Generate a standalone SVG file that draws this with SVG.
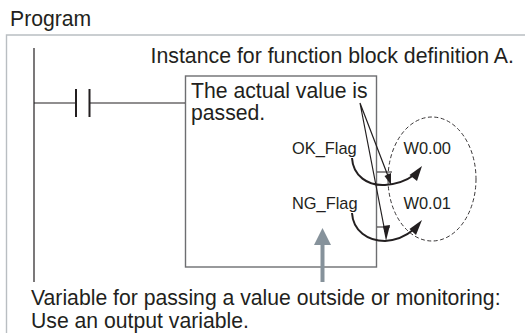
<svg xmlns="http://www.w3.org/2000/svg" width="525" height="333" viewBox="0 0 525 333">
<style>
text{font-family:"Liberation Sans",Arial,sans-serif;fill:#231f20}
.t{font-size:21.2px}
.s{font-size:16.4px}
.w{fill:none;stroke:#231f20;stroke-width:1.2}
.c{fill:none;stroke:#231f20;stroke-width:2}
.h{fill:#231f20}
</style>
<rect width="525" height="333" fill="#fff"/>
<path d="M6.500 333V35H525" fill="none" stroke="#b9bec2" stroke-width="1.400"/>
<text class="t" x="10" y="26">Program</text>
<text class="t" x="150.500" y="63" style="font-size:21.3px">Instance for function block definition A.</text>
<g id="rail"><path class="w" d="M34 48V282"/></g>
<g id="block"><rect x="185.500" y="76" width="191" height="191" fill="#fff" stroke="#6d6e71" stroke-width="1.400"/>
<text class="t" x="191" y="98">The actual value is</text>
<text class="t" x="191" y="120">passed.</text>
<text class="s" x="292" y="154">OK_Flag</text>
<text class="s" x="292" y="209">NG_Flag</text></g>
<g id="outputs"><text class="s" x="403.500" y="154">W0.00</text>
<text class="s" x="403.500" y="209">W0.01</text>
<ellipse cx="432" cy="179" rx="44" ry="62" fill="none" stroke="#231f20" stroke-width="0.9" stroke-dasharray="4 2.500"/></g>
<g id="connectors">
<path class="w" d="M34 103H76M90 103H185"/>
<path d="M76 89V117M89.500 89V117" fill="none" stroke="#231f20" stroke-width="2"/>
<path class="w" d="M377 172H392M377 227H390"/>
<path class="w" d="M360 103L388 176M360 103L385 232" stroke-width="1"/>
<path class="h" d="M391 185L384.500 176L391 173ZM386 241L383 226L390 225Z"/>
<path class="c" d="M352 158C353 176 368 186 385 185C398 184 406 181 414 175"/>
<path class="h" d="M422 166L417 181L409.500 175Z"/>
<path class="c" d="M352 213C353 231 368 241 385 241C398 240 406 236 413 230"/>
<path class="h" d="M422 220L416 235L409.500 229Z"/>
<path d="M322.500 282V244" fill="none" stroke="#86929b" stroke-width="4"/>
<path d="M322.500 228L331 245H314Z" fill="#86929b"/>
</g>
<text class="t" x="31" y="305">Variable for passing a value outside or monitoring:</text>
<text class="t" x="31" y="328">Use an output variable.</text>
</svg>
